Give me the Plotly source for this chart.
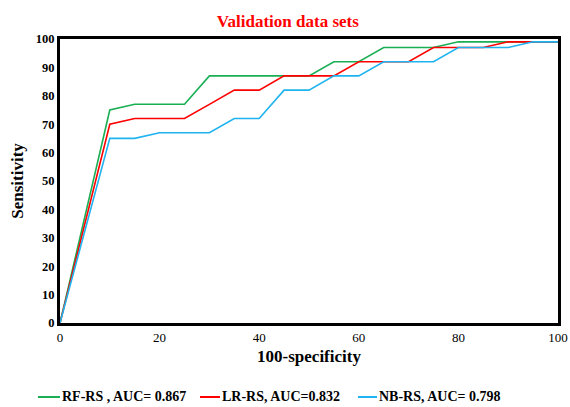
import plotly.graph_objects as go

fpr = [0, 10, 15, 20, 25, 30, 35, 40, 45, 50, 55, 60, 65, 70, 75, 80, 85, 90, 95, 100]
rf = [0, 75, 77, 77, 77, 87, 87, 87, 87, 87, 92, 92, 97, 97, 97, 99, 99, 99, 99, 99]
lr = [0, 70, 72, 72, 72, 77, 82, 82, 87, 87, 87, 92, 92, 92, 97, 97, 97, 99, 99, 99]
nb = [0, 65, 65, 67, 67, 67, 72, 72, 82, 82, 87, 87, 92, 92, 92, 97, 97, 97, 99, 99]

names = ["RF-RS , AUC= 0.867", "LR-RS, AUC=0.832", "NB-RS, AUC= 0.798"]
colors = ["#1aaf54", "#ff0000", "#1fb4f0"]
series = [rf, lr, nb]

FONT = "Liberation Serif"
W, H = 570, 407
L, R, T, B = 60, 12, 39, 84
PW, PH = W - L - R, H - T - B


def px_x(px):
    return (px - L) / PW


def px_y(py):
    return (H - B - py) / PH


fig = go.Figure()
for name, col, ys in zip(names, colors, series):
    fig.add_trace(go.Scatter(x=fpr, y=ys, mode="lines", name=name,
                             line=dict(color=col, width=1.6), showlegend=False))

# manual legend (line sample + bold label), placed like the reference
leg_lines = [(38, 60), (200, 220), (358, 377)]
leg_y = 397
shapes, annos = [], []
for (x0, x1), name, col in zip(leg_lines, names, colors):
    shapes.append(dict(type="line", xref="paper", yref="paper",
                       x0=px_x(x0), x1=px_x(x1), y0=px_y(leg_y), y1=px_y(leg_y),
                       line=dict(color=col, width=2)))
    annos.append(dict(xref="paper", yref="paper", x=px_x(x1 + 1), y=px_y(leg_y),
                      xanchor="left", yanchor="middle", showarrow=False,
                      borderpad=0,
                      text="<b>%s</b>" % name,
                      font=dict(family=FONT, size=14, color="black")))

fig.update_layout(
    width=W, height=H,
    margin=dict(l=L, r=R, t=T, b=B, autoexpand=False),
    paper_bgcolor="white", plot_bgcolor="white",
    title=dict(text="<b>Validation data sets</b>", x=0.505, xanchor="center",
               y=1 - 21 / H, yanchor="middle",
               font=dict(family=FONT, size=17, color="#ff0000")),
    font=dict(family=FONT, color="black"),
    showlegend=False,
    shapes=shapes,
    annotations=annos,
)
fig.update_xaxes(range=[0, 100], tickvals=[0, 20, 40, 60, 80, 100],
                 showgrid=False, zeroline=False, showline=True, mirror=True,
                 linecolor="black", linewidth=3, ticks="",
                 tickfont=dict(family=FONT, size=13, color="black"),
                 title=dict(text="<b>100-specificity</b>", standoff=7,
                            font=dict(family=FONT, size=17, color="black")))
fig.update_yaxes(range=[0, 100], tickvals=list(range(0, 101, 10)),
                 ticktext=["<b>%d</b>" % v for v in range(0, 101, 10)],
                 showgrid=False, zeroline=False, showline=True, mirror=True,
                 linecolor="black", linewidth=3, ticks="",
                 tickfont=dict(family=FONT, size=12.5, color="black"),
                 title=dict(text="<b>Sensitivity</b>", standoff=8,
                            font=dict(family=FONT, size=17, color="black")))

fig.write_html("out.html")
